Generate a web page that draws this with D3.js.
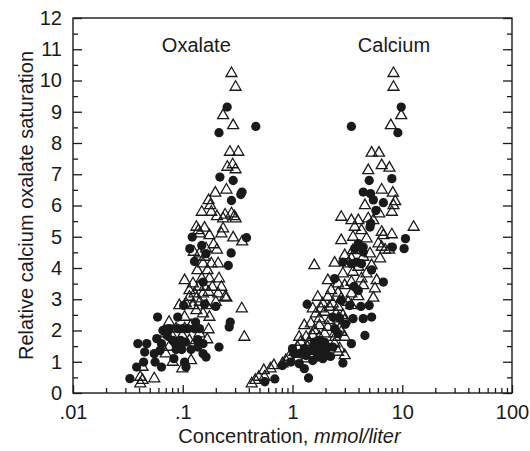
<!DOCTYPE html>
<html>
<head>
<meta charset="utf-8">
<script src="https://cdn.jsdelivr.net/npm/d3@7"></script>
<style>
  html, body { margin: 0; padding: 0; background: #fff; }
  svg { display: block; }
  text { font-family: "Liberation Sans", Arial, Helvetica, sans-serif; fill: #1a1a1a; }
</style>
</head>
<body>
<svg id="chart" width="530" height="451"></svg>
<script>
// Oxalate concentration (mmol/liter) vs relative CaOx saturation
const oxalateFilled = [
  [0.254,9.15],[0.214,8.33],[0.463,8.53],[0.218,6.91],[0.288,6.8],[0.347,6.43],[0.338,6.35],
  [0.278,6.16],[0.381,4.97],[0.122,4.99],[0.116,4.62],[0.149,4.72],[0.128,4.21],[0.163,4.46],
  [0.276,4.48],[0.26,4.08],[0.153,3.55],[0.158,2.84],[0.2,2.77],[0.102,2.8],[0.059,2.43],
  [0.09,2.43],[0.131,2.27],[0.271,2.27],[0.265,2.11],[0.075,2.06],[0.09,2.06],[0.1,2.06],
  [0.111,2.06],[0.128,2.06],[0.142,2.06],[0.066,2.0],[0.072,1.84],[0.058,1.74],[0.081,1.68],
  [0.096,1.68],[0.137,1.71],[0.039,1.58],[0.047,1.58],[0.064,1.58],[0.087,1.58],[0.106,1.63],
  [0.153,1.58],[0.214,1.47],[0.062,1.36],[0.087,1.39],[0.098,1.39],[0.119,1.39],[0.137,1.47],
  [0.045,1.31],[0.055,1.26],[0.153,1.26],[0.163,1.15],[0.104,0.99],[0.083,1.1],[0.056,0.99],
  [0.044,0.99],[0.038,0.83],[0.064,0.83],[0.107,0.83],[0.033,0.46]
];
const oxalateOpen = [
  [0.278,10.23],[0.303,9.79],[0.233,8.88],[0.288,8.56],[0.269,7.71],[0.321,7.71],[0.285,7.31],
  [0.255,7.23],[0.303,7.15],[0.25,6.5],[0.198,6.4],[0.172,6.16],[0.178,6.0],[0.149,5.79],
  [0.182,5.79],[0.205,5.65],[0.243,5.7],[0.278,5.74],[0.295,5.65],[0.303,5.58],[0.233,5.58],
  [0.133,5.31],[0.139,5.2],[0.158,5.28],[0.143,5.1],[0.175,5.04],[0.233,5.26],[0.225,5.1],
  [0.288,4.97],[0.348,4.84],[0.126,4.51],[0.142,4.46],[0.163,4.62],[0.191,4.75],[0.205,4.58],
  [0.158,4.35],[0.182,4.14],[0.21,4.14],[0.153,4.14],[0.168,3.92],[0.136,3.92],[0.149,3.66],
  [0.175,3.66],[0.214,3.66],[0.104,3.6],[0.124,3.5],[0.14,3.39],[0.158,3.39],[0.186,3.39],
  [0.225,3.39],[0.115,3.28],[0.128,3.18],[0.153,3.18],[0.172,3.23],[0.21,3.18],[0.243,3.07],
  [0.115,3.07],[0.133,3.02],[0.093,2.8],[0.107,2.86],[0.124,2.8],[0.143,2.91],[0.165,2.8],
  [0.2,2.91],[0.25,3.04],[0.133,2.64],[0.153,2.54],[0.175,2.43],[0.345,2.7],[0.104,2.43],
  [0.075,2.27],[0.087,2.06],[0.104,2.06],[0.119,2.16],[0.142,1.9],[0.172,2.03],[0.07,1.9],
  [0.081,1.79],[0.099,1.84],[0.115,1.68],[0.167,1.71],[0.364,1.79],[0.075,1.47],[0.09,1.47],
  [0.124,1.52],[0.07,1.26],[0.081,0.99],[0.099,0.78],[0.119,1.04],[0.043,0.83],[0.041,0.51],
  [0.043,0.41],[0.055,0.46],[0.041,0.3]
];

// Calcium concentration (mmol/liter) vs relative CaOx saturation
const calciumFilled = [
  [9.79,9.15],[9.12,8.33],[3.44,8.53],[8.04,6.86],[5.0,6.8],[4.41,6.43],[5.14,6.38],[5.45,6.18],
  [6.73,6.09],[5.75,5.84],[5.16,5.42],[5.08,5.31],[10.7,4.94],[10.4,4.62],[8.13,4.67],[4.41,4.67],
  [3.98,4.78],[4.41,4.51],[3.69,4.62],[3.83,4.19],[3.44,4.14],[2.88,4.19],[4.25,4.14],[5.26,3.94],
  [2.42,3.66],[3.64,3.41],[6.73,3.55],[3.98,3.28],[2.78,2.96],[3.32,2.8],[4.2,2.77],[5.0,2.8],
  [1.36,2.84],[2.33,2.43],[2.69,2.4],[3.56,2.38],[4.41,2.38],[5.26,2.43],[3.03,2.2],[2.42,2.06],
  [2.6,1.9],[4.57,1.84],[3.44,1.58],[1.76,1.68],[1.96,1.63],[1.58,1.63],[1.7,1.47],[1.89,1.47],
  [2.1,1.47],[2.33,1.47],[1.47,1.36],[1.64,1.31],[1.82,1.31],[2.01,1.31],[1.28,1.42],[1.0,1.42],
  [1.04,1.26],[1.15,1.26],[1.33,1.2],[1.53,1.04],[1.7,1.15],[1.89,1.1],[2.22,1.17],[0.965,0.99],
  [0.81,0.88],[1.15,0.94],[1.28,0.78],[2.88,0.96],[1.4,0.48],[0.69,0.45],[0.56,0.36]
];
const calciumOpen = [
  [8.32,10.23],[8.32,9.79],[9.79,8.88],[7.87,8.56],[5.26,7.68],[6.14,7.68],[4.9,7.12],[6.5,7.28],
  [7.64,7.2],[6.5,6.5],[8.2,6.4],[8.63,6.13],[8.32,6.0],[8.04,5.79],[4.57,6.0],[2.78,5.63],
  [3.44,5.52],[3.98,5.52],[4.9,5.58],[6.17,5.74],[5.45,5.52],[3.69,5.31],[4.25,5.2],[6.5,5.15],
  [6.73,5.04],[8.04,5.07],[12.7,5.31],[2.78,4.88],[3.56,4.99],[4.73,4.94],[6.06,4.78],[6.98,4.58],
  [7.59,4.58],[6.5,4.67],[3.98,4.67],[3.56,4.56],[5.08,4.46],[6.28,4.3],[2.99,4.4],[4.41,4.35],
  [3.44,4.3],[1.58,4.08],[2.42,4.16],[3.21,4.14],[3.98,4.03],[5.26,4.08],[4.73,3.82],[3.56,3.87],
  [2.88,3.82],[4.25,3.66],[5.85,3.6],[2.1,3.6],[3.44,3.55],[2.6,3.5],[2.99,3.44],[4.41,3.44],
  [5.64,3.34],[2.25,3.28],[2.6,3.2],[3.44,3.18],[3.98,3.09],[1.7,3.07],[2.1,3.07],[2.78,3.02],
  [5.45,3.04],[1.89,2.86],[2.33,2.86],[3.21,2.91],[1.53,2.7],[1.82,2.7],[2.17,2.75],[2.6,2.75],
  [3.44,2.8],[1.64,2.54],[1.96,2.59],[2.5,2.54],[2.88,2.48],[1.76,2.38],[2.17,2.32],[2.6,2.38],
  [2.99,2.32],[1.47,2.22],[1.76,2.16],[2.1,2.11],[2.69,2.06],[1.28,2.16],[1.58,2.0],[1.96,1.9],
  [2.42,1.9],[2.78,1.95],[1.15,1.79],[1.33,1.79],[1.53,1.84],[1.76,1.79],[2.45,1.79],[2.99,1.79],
  [1.19,1.63],[1.42,1.63],[2.42,1.58],[1.11,1.47],[1.37,1.47],[1.76,1.47],[2.69,1.42],[1.04,1.31],
  [1.24,1.26],[1.47,1.36],[2.6,1.31],[0.931,1.15],[1.11,1.1],[1.33,1.1],[2.99,1.2],[0.87,1.04],
  [0.81,0.94],[0.677,0.88],[0.63,0.78],[0.548,0.72],[0.493,0.51],[0.556,0.51],[0.459,0.41],[0.425,0.3]
];

const xTickValues = [0.01, 0.1, 1, 10, 100];
const xTickLabels = [".01", ".1", "1", "10", "100"];
const yTickValues = d3.range(0, 13);
const groupLabels = [
  { text: "Oxalate", x: 0.133, y: 10.9 },
  { text: "Calcium", x: 8.4, y: 10.9 }
];

const svg = d3.select("#chart");
const plotLeft = 73, plotRight = 512, plotTop = 18, plotBottom = 393;
const ink = "#1a1a1a";
const fontSize = 20;

const x = d3.scaleLog().domain([0.01, 100]).range([plotLeft, plotRight]);
const y = d3.scaleLinear().domain([0, 12]).range([plotBottom, plotTop]);

// minor tick positions
const xMinor = [];
[0.01, 0.1, 1, 10].forEach(d => { for (let k = 2; k <= 9; k++) xMinor.push(d * k); });
const yMinor = d3.range(0.5, 12, 1);

function styleAxis(g) {
  g.select(".domain").remove();
  g.selectAll(".tick line").attr("stroke", ink).attr("stroke-width", 1.3);
  g.selectAll(".tick text").attr("font-size", fontSize).attr("fill", ink)
    .style("font-family", '"Liberation Sans", Arial, Helvetica, sans-serif');
}

// left axis
svg.append("g").attr("transform", `translate(${plotLeft},0)`)
  .call(d3.axisLeft(y).tickValues(yTickValues).tickSizeInner(-9).tickSizeOuter(0).tickPadding(11))
  .call(styleAxis);
svg.append("g").attr("transform", `translate(${plotLeft},0)`)
  .call(d3.axisLeft(y).tickValues(yMinor).tickSizeInner(-5).tickSizeOuter(0).tickFormat(""))
  .call(styleAxis);
// right axis (ticks only)
svg.append("g").attr("transform", `translate(${plotRight},0)`)
  .call(d3.axisRight(y).tickValues(yTickValues).tickSizeInner(-9).tickSizeOuter(0).tickFormat(""))
  .call(styleAxis);
svg.append("g").attr("transform", `translate(${plotRight},0)`)
  .call(d3.axisRight(y).tickValues(yMinor).tickSizeInner(-5).tickSizeOuter(0).tickFormat(""))
  .call(styleAxis);
// bottom axis
svg.append("g").attr("transform", `translate(0,${plotBottom})`)
  .call(d3.axisBottom(x).tickValues(xTickValues).tickSizeInner(-8).tickSizeOuter(0).tickPadding(12)
    .tickFormat((d, i) => xTickLabels[i]))
  .call(styleAxis);
svg.append("g").attr("transform", `translate(0,${plotBottom})`)
  .call(d3.axisBottom(x).tickValues(xMinor).tickSizeInner(-5).tickSizeOuter(0).tickFormat(""))
  .call(styleAxis);

// frame
svg.append("rect")
  .attr("x", plotLeft).attr("y", plotTop)
  .attr("width", plotRight - plotLeft).attr("height", plotBottom - plotTop)
  .attr("fill", "none").attr("stroke", ink).attr("stroke-width", 1.4);

// markers
const circleSym = d3.symbol().type(d3.symbolCircle).size(68);
const triSym = d3.symbol().type(d3.symbolTriangle).size(52);

const marks = svg.append("g");
[oxalateFilled, calciumFilled].forEach(data => {
  marks.append("g").selectAll("path").data(data).join("path")
    .attr("d", circleSym)
    .attr("transform", d => `translate(${x(d[0])},${y(d[1])})`)
    .attr("fill", ink);
});
[oxalateOpen, calciumOpen].forEach(data => {
  marks.append("g").selectAll("path").data(data).join("path")
    .attr("d", triSym)
    .attr("transform", d => `translate(${x(d[0])},${y(d[1])})`)
    .attr("fill", "none").attr("stroke", ink).attr("stroke-width", 1.3)
    .attr("stroke-linejoin", "miter");
});

// group labels
svg.selectAll("text.group").data(groupLabels).join("text")
  .attr("class", "group")
  .attr("x", d => x(d.x)).attr("y", d => y(d.y))
  .attr("text-anchor", "middle").attr("font-size", fontSize)
  .text(d => d.text);

// axis titles
const xt = svg.append("text")
  .attr("x", (plotLeft + plotRight) / 2 - 3).attr("y", 443)
  .attr("text-anchor", "middle").attr("font-size", fontSize);
xt.append("tspan").text("Concentration, ");
xt.append("tspan").attr("font-style", "italic").text("mmol/liter");

svg.append("text")
  .attr("transform", `translate(33,${(plotTop + plotBottom) / 2}) rotate(-90)`)
  .attr("text-anchor", "middle").attr("font-size", fontSize)
  .text("Relative calcium oxalate saturation");
</script>
</body>
</html>
